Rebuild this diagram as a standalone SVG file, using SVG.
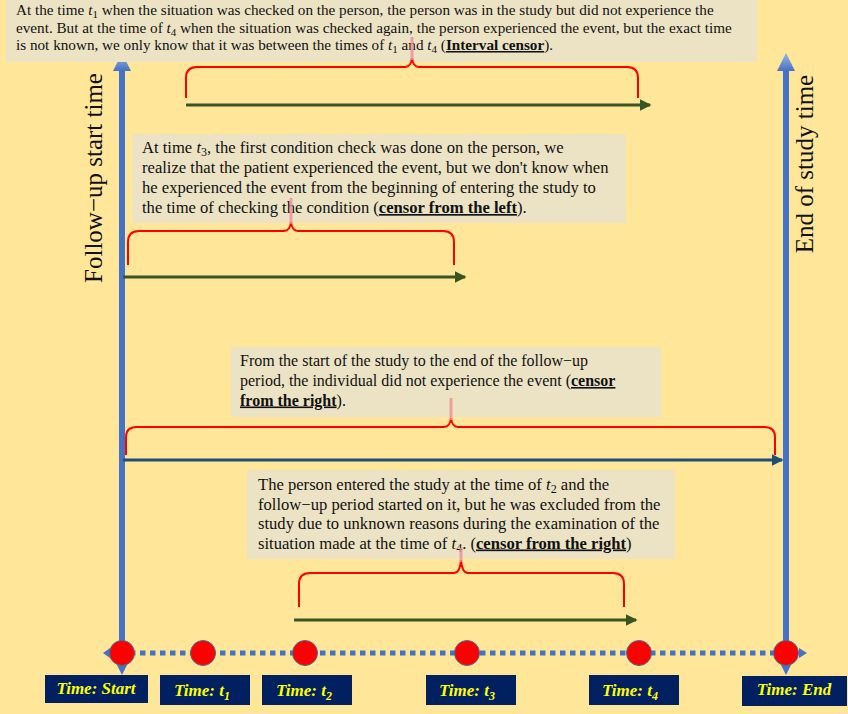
<svg xmlns="http://www.w3.org/2000/svg" width="848" height="714" viewBox="0 0 848 714">
<defs>
<style>
.box{fill:#ECE3C5}
.txt{font-family:"Liberation Serif","Times New Roman",serif;font-size:16px;fill:#111}
.top{font-size:15.2px}
.wide{font-size:16.6px}
.b{font-weight:bold;text-decoration:underline}
.it{font-style:italic}
.brace{fill:none;stroke:#FF0000;stroke-width:2}
.tip{stroke:#F08C96;stroke-width:3;stroke-opacity:0.8}
.axis{stroke:#4472C4;stroke-width:6}
.green{stroke:#375623;stroke-width:3}
.navy{stroke:#1F4E79;stroke-width:3}
.dot{fill:#FF0000;stroke:#41719C;stroke-width:1}
.lab{fill:#002060}
.labt{font-family:"Liberation Serif","Times New Roman",serif;font-size:17px;font-weight:bold;font-style:italic;fill:#FFFF00}
.side{font-family:"Liberation Serif","Times New Roman",serif;font-size:25px;fill:#111}
</style>
<linearGradient id="ah" x1="0" y1="0" x2="0" y2="1">
<stop offset="0" stop-color="#9DB5E3"/>
<stop offset="1" stop-color="#4472C4"/>
</linearGradient>
<marker id="mg" markerWidth="4" markerHeight="4" refX="3.5" refY="2" orient="auto" markerUnits="strokeWidth">
<path d="M0,0 L4,2 L0,4 Z" fill="#375623"/>
</marker>
<marker id="mn" markerWidth="4" markerHeight="4" refX="3.5" refY="2" orient="auto" markerUnits="strokeWidth">
<path d="M0,0 L4,2 L0,4 Z" fill="#1F4E79"/>
</marker>
</defs>
<rect width="848" height="714" fill="#FFE699"/>

<g id="axes">
<line class="axis" x1="122" y1="68" x2="122" y2="668"/>
<path d="M122,53 L131,71 L113,71 Z" fill="url(#ah)"/>
<path d="M117,665 L127,665 L122,675 Z" fill="#4472C4"/>
<line class="axis" x1="786" y1="68" x2="786" y2="668"/>
<path d="M786,53 L795,71 L777,71 Z" fill="url(#ah)"/>
<path d="M781,665 L791,665 L786,675 Z" fill="#4472C4"/>
<line x1="110" y1="653" x2="800" y2="653" stroke="#4472C4" stroke-width="5" stroke-dasharray="5.5,4.5"/>
<path d="M103,653 L110,648 L110,658 Z" fill="#4472C4"/>
<path d="M807,653 L799,648 L799,658 Z" fill="#4472C4"/>
<text class="side" transform="translate(102,178) rotate(-90)" text-anchor="middle">Follow−up start time</text>
<text class="side" transform="translate(813,164) rotate(-90)" text-anchor="middle">End of study time</text>
</g>

<g id="interval-censor">
<rect class="box" x="6" y="0" width="751" height="62"/>
<text class="txt top" x="16" y="15">At the time <tspan class="it">t</tspan><tspan font-size="11" dy="3">1</tspan><tspan dy="-3"> when the situation was checked on the person, the person was in the study but did not experience the</tspan></text>
<text class="txt top" x="16" y="32.5">event. But at the time of <tspan class="it">t</tspan><tspan font-size="11" dy="3">4</tspan><tspan dy="-3"> when the situation was checked again, the person experienced the event, but the exact time</tspan></text>
<text class="txt top" x="16" y="50">is not known, we only know that it was between the times of <tspan class="it">t</tspan><tspan font-size="11" dy="3">1</tspan><tspan dy="-3"> and </tspan><tspan class="it">t</tspan><tspan font-size="11" dy="3">4</tspan><tspan dy="-3"> (</tspan><tspan class="b">Interval censor</tspan>).</text>
</g>

<g id="left-censor">
<rect class="box" x="132" y="134" width="494" height="89"/>
<text class="txt wide" x="142" y="153">At time <tspan class="it">t</tspan><tspan font-size="12" dy="3">3</tspan><tspan dy="-3">, the first condition check was done on the person, we</tspan></text>
<text class="txt wide" x="142" y="173">realize that the patient experienced the event, but we don't know when</text>
<text class="txt wide" x="142" y="193">he experienced the event from the beginning of entering the study to</text>
<text class="txt wide" x="142" y="213">the time of checking the condition (<tspan class="b">censor from the left</tspan>).</text>
</g>

<g id="right-censor-1">
<rect class="box" x="231" y="347" width="430" height="70"/>
<text class="txt" x="240" y="366">From the start of the study to the end of the follow−up</text>
<text class="txt" x="240" y="386">period, the individual did not experience the event (<tspan class="b">censor</tspan></text>
<text class="txt" x="240" y="405.5"><tspan class="b">from the right</tspan>).</text>
</g>

<g id="right-censor-2">
<rect class="box" x="247" y="470" width="428" height="89"/>
<text class="txt wide" x="258" y="490">The person entered the study at the time of <tspan class="it">t</tspan><tspan font-size="12" dy="3">2</tspan><tspan dy="-3"> and the</tspan></text>
<text class="txt wide" x="258" y="509.5">follow−up period started on it, but he was excluded from the</text>
<text class="txt wide" x="258" y="529">study due to unknown reasons during the examination of the</text>
<text class="txt wide" x="258" y="548.5">situation made at the time of <tspan class="it">t</tspan><tspan font-size="12" dy="3">4</tspan><tspan dy="-3">. (</tspan><tspan class="b">censor from the right</tspan>)</text>
</g>

<g id="connectors">
<path class="brace" d="M186,98 L186,78 Q186,67 197,67 L405,67 Q411,67 412,58 Q413,67 419,67 L627,67 Q638,67 638,78 L638,98"/>
<line class="tip" x1="412" y1="37" x2="412" y2="60"/>
<line class="green" x1="186" y1="105" x2="650" y2="105" marker-end="url(#mg)"/>

<path class="brace" d="M128,265 L128,242 Q128,231 139,231 L284,231 Q290,231 291,222 Q292,231 298,231 L443,231 Q454,231 454,242 L454,265"/>
<line class="tip" x1="291" y1="198" x2="291" y2="224"/>
<line class="green" x1="123" y1="277" x2="465" y2="277" marker-end="url(#mg)"/>

<path class="brace" d="M126,455 L126,437 Q126,427 137,427 L444,427 Q450,427 451,418 Q452,427 458,427 L764,427 Q775,427 775,437 L775,455"/>
<line class="tip" x1="451" y1="398" x2="451" y2="420"/>
<line class="navy" x1="123" y1="460" x2="782" y2="460" marker-end="url(#mn)"/>

<path class="brace" d="M299,607 L299,584 Q299,573 310,573 L454,573 Q460,573 461,560 Q462,573 468,573 L613,573 Q624,573 624,584 L624,607"/>
<line class="tip" x1="461" y1="548" x2="461" y2="562"/>
<line class="green" x1="294" y1="620" x2="636" y2="620" marker-end="url(#mg)"/>
</g>

<g id="t-start">
<circle class="dot" cx="122" cy="653" r="12.5"/>
<rect class="lab" x="45" y="675" width="103" height="28"/>
<text class="labt" x="96" y="694" text-anchor="middle">Time: Start</text>
</g>
<g id="t-1">
<circle class="dot" cx="203" cy="653" r="12.5"/>
<rect class="lab" x="160" y="675" width="90" height="30"/>
<text class="labt" x="174" y="696">Time: t<tspan font-size="12" dy="4">1</tspan></text>
</g>
<g id="t-2">
<circle class="dot" cx="305" cy="653" r="12.5"/>
<rect class="lab" x="262" y="675" width="90" height="30"/>
<text class="labt" x="276" y="696">Time: t<tspan font-size="12" dy="4">2</tspan></text>
</g>
<g id="t-3">
<circle class="dot" cx="467" cy="653" r="12.5"/>
<rect class="lab" x="426" y="675" width="90" height="30"/>
<text class="labt" x="439" y="696">Time: t<tspan font-size="12" dy="4">3</tspan></text>
</g>
<g id="t-4">
<circle class="dot" cx="639" cy="653" r="12.5"/>
<rect class="lab" x="589" y="675" width="90" height="30"/>
<text class="labt" x="602" y="696">Time: t<tspan font-size="12" dy="4">4</tspan></text>
</g>
<g id="t-end">
<circle class="dot" cx="786" cy="653" r="12.5"/>
<rect class="lab" x="742" y="676" width="105" height="30"/>
<text class="labt" x="794" y="695" text-anchor="middle">Time: End</text>
</g>
</svg>
